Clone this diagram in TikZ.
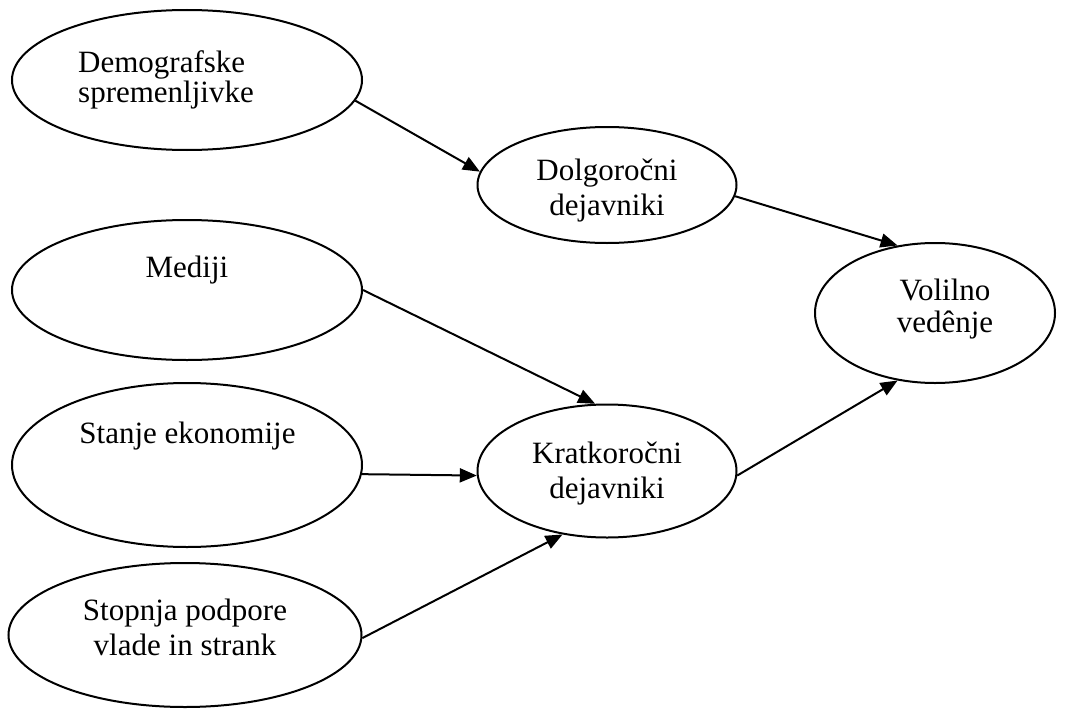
\documentclass[tikz,border=0pt]{standalone}
\usepackage{fontspec}
\setmainfont{Liberation Serif}
\usetikzlibrary{shapes.geometric,arrows.meta}
\begin{document}
\begin{tikzpicture}[x=1pt,y=-1pt,
  blob/.style={draw,ellipse,line width=2pt,inner sep=0pt,fill=white},
  lbl/.style={inner sep=0pt,align=center,anchor=base,font=\fontsize{31}{35}\selectfont},
  link/.style={line width=2pt,-{Triangle[length=17pt,width=14pt]}}]
\useasboundingbox (0,0) rectangle (1065,709);

% factor ellipses
\node[blob,minimum width=350pt,minimum height=140pt] (demo) at (187,80) {};
\node[blob,minimum width=259pt,minimum height=116pt] (dolg) at (607,185) {};
\node[blob,minimum width=350pt,minimum height=140pt] (medi) at (187,290) {};
\node[blob,minimum width=350pt,minimum height=164pt] (stan) at (187,465) {};
\node[blob,minimum width=259pt,minimum height=133pt] (krat) at (607,471) {};
\node[blob,minimum width=240pt,minimum height=140pt] (voli) at (935,313) {};
\node[blob,minimum width=353pt,minimum height=144pt] (stop) at (185,635) {};

% labels (base anchor sits on the last line)
\node[lbl,align=left,anchor=base west,font=\fontsize{31}{27}\selectfont] (demo-t) at (78,102) {Demografske\\spremenljivke};
\node[lbl] (dolg-t) at (607,215) {Dolgoročni\\dejavniki};
\node[lbl] (medi-t) at (187,277) {Mediji};
\node[lbl] (stan-t) at (187.5,443) {Stanje ekonomije};
\node[lbl] (krat-t) at (607,498) {Kratkoročni\\dejavniki};
\node[lbl,font=\fontsize{31}{32}\selectfont] (voli-t) at (945,332) {Volilno\\vedênje};
\node[lbl] (stop-t) at (185,655) {Stopnja podpore\\vlade in strank};

% influences
\draw[link] (demo.-7.5) -- (dolg.174.7);
\draw[link] (dolg.-5.4) -- (voli.119.1);
\draw[link] (medi.0) -- (krat.100.6);
\draw[link] (stan.-3.9) -- (krat.182.7);
\draw[link] (stop.-1.3) -- (krat.235);
\draw[link] (krat.-2.2) -- (voli.241.2);
\end{tikzpicture}
\end{document}
